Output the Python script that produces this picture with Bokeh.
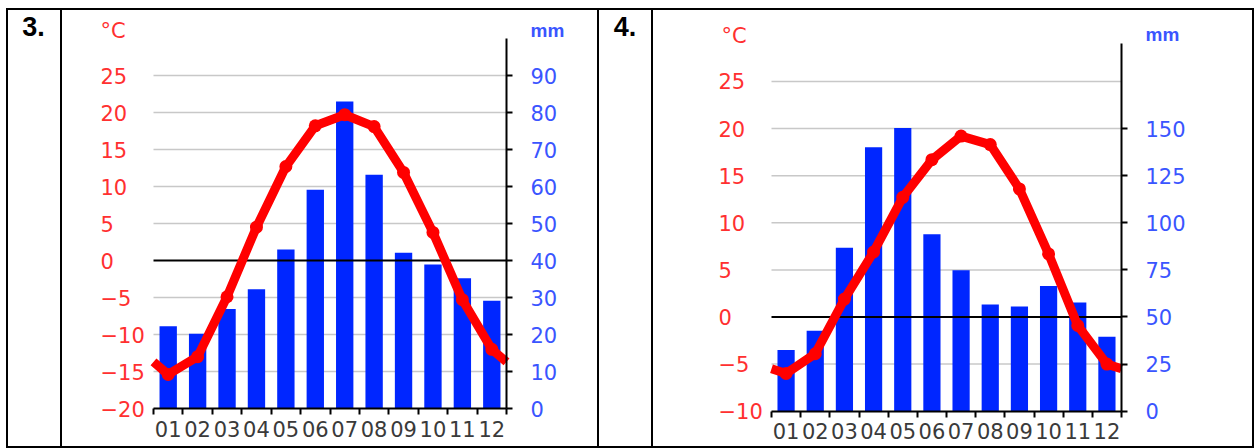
import numpy as np
from bokeh.plotting import figure
from bokeh.models import Range1d, LinearAxis, FixedTicker, Label, Spacer
from bokeh.layouts import row, column
from bokeh.embed import file_html
from bokeh.resources import INLINE

# ---------------- data ----------------
months = ["01", "02", "03", "04", "05", "06", "07", "08", "09", "10", "11", "12"]
panel_labels = ["3.", "4."]

temp3 = [-15.4, -13.0, -4.9, 4.5, 12.7, 18.2, 19.7, 18.1, 11.9, 3.8, -5.3, -12.0]
prec3 = [22.2, 20.2, 26.9, 32.2, 43.0, 59.1, 83.0, 63.2, 42.1, 38.9, 35.2, 29.1]
temp_ticks3 = [-20, -15, -10, -5, 0, 5, 10, 15, 20, 25]
prec_ticks3 = [0, 10, 20, 30, 40, 50, 60, 70, 80, 90]

temp4 = [-6.0, -3.9, 1.9, 6.9, 12.7, 16.7, 19.2, 18.3, 13.6, 6.7, -0.9, -5.0]
prec4 = [32.5, 42.7, 86.8, 140.1, 150.3, 93.9, 74.8, 56.6, 55.6, 66.5, 57.7, 39.5]
temp_ticks4 = [-10, -5, 0, 5, 10, 15, 20, 25]
prec_ticks4 = [0, 25, 50, 75, 100, 125, 150]

RED = "#ff0000"
RED_TXT = "#ff3030"
BLUE = "#0026ff"
BLUE_TXT = "#3a55ff"
FONT = "DejaVu Sans"
FS = "21px"

ROW_H = 436
ROW_TOP = 10          # page y of the row's top edge


def fmt(t):
    return str(t).replace("-", "\u2212")


def make_chart(temp, prec, t_lo, t_hi, p_top, t_ticks, p_ticks,
               canvas_x0, w, area, lab_dx, degc_dx, degc_dy, mm_dy):
    """area = (x_left, x_right, y_bottom, y_top) of the chart area in page pixels."""
    ax0, ax1, ayb, ayt = area
    n = len(months)
    cx0, cx1 = canvas_x0, canvas_x0 + w
    cy0, cy1 = ROW_TOP, ROW_TOP + ROW_H
    sx = (ax1 - ax0) / n
    sy = (ayb - ayt) / (t_hi - t_lo)
    x_start = 0 - (ax0 - cx0) / sx
    x_end = n + (cx1 - ax1) / sx
    y_start = t_lo - (cy1 - ayb) / sy
    y_end = t_hi + (ayt - cy0) / sy
    k = p_top / (t_hi - t_lo)

    p = figure(width=w, height=ROW_H, x_range=Range1d(x_start, x_end),
               y_range=Range1d(y_start, y_end), title=None,
               output_backend="svg", toolbar_location=None,
               x_axis_location=None, y_axis_location=None, min_border=0)
    p.outline_line_color = None
    p.background_fill_color = "white"
    p.border_fill_color = "white"
    for g in p.grid:
        g.visible = False
    p.extra_y_ranges = {"mm": Range1d((y_start - t_lo) * k, (y_end - t_lo) * k)}

    centers = np.arange(n) + 0.5

    # horizontal grid lines across the month span
    grid_ticks = [t for t in t_ticks if t not in (t_lo, 0)]
    p.segment(x0=[0] * len(grid_ticks), x1=[n] * len(grid_ticks), y0=grid_ticks, y1=grid_ticks,
              line_color="#c8c8c8", line_width=1.5)

    # bars
    p.vbar(x=centers, top=prec, bottom=0, width=0.59, y_range_name="mm",
           fill_color=BLUE, line_color=None)
    # zero line
    p.segment(x0=[0], x1=[n], y0=[0], y1=[0], line_color="black", line_width=2)

    # bottom axis
    xa = LinearAxis(fixed_location=t_lo, bounds=(0, n),
                    ticker=FixedTicker(ticks=list(centers), minor_ticks=list(range(n + 1))))
    xa.major_label_overrides = {float(c): m for c, m in zip(centers, months)}
    xa.major_tick_line_color = None
    xa.minor_tick_out = 6
    xa.minor_tick_in = 0
    xa.minor_tick_line_color = "black"
    xa.minor_tick_line_width = 2
    xa.axis_line_color = "black"
    xa.axis_line_width = 2
    xa.major_label_text_color = "#3a3a3a"
    xa.major_label_text_font = FONT
    xa.major_label_text_font_size = FS
    xa.major_label_standoff = 6
    p.add_layout(xa, "below")

    # right axis (precipitation)
    ra = LinearAxis(y_range_name="mm", fixed_location=n, bounds=(0, p_top),
                    ticker=FixedTicker(ticks=p_ticks))
    ra.axis_line_color = "black"
    ra.axis_line_width = 2
    ra.major_tick_line_color = "black"
    ra.major_tick_line_width = 2
    ra.major_tick_out = 6
    ra.major_tick_in = 0
    ra.minor_tick_line_color = None
    ra.major_label_text_color = BLUE_TXT
    ra.major_label_text_font = FONT
    ra.major_label_text_font_size = FS
    ra.major_label_standoff = 18
    p.add_layout(ra, "right")

    # temperature line (edges at the Dec/Jan mean, as drawn in the chart)
    edge = (temp[0] + temp[-1]) / 2.0
    xl = [0.0] + list(centers) + [float(n)]
    yl = [edge] + list(temp) + [edge]
    p.line(xl, yl, line_color=RED, line_width=9, line_join="round", line_cap="butt")
    p.scatter(centers, temp, size=13, fill_color=RED, line_color=None)

    # temperature tick labels (left-aligned as in the reference)
    for t in t_ticks:
        p.add_layout(Label(x=0, y=t, x_offset=lab_dx, text=fmt(t), text_align="left",
                           text_baseline="middle", text_color=RED_TXT, text_font=FONT,
                           text_font_size=FS))
    p.add_layout(Label(x=0, y=t_hi, x_offset=degc_dx, y_offset=degc_dy, text="\u00b0C",
                       text_align="left", text_baseline="middle", text_color=RED_TXT,
                       text_font=FONT, text_font_size=FS))
    p.add_layout(Label(x=n, y=t_hi, x_offset=24, y_offset=mm_dy, text="mm",
                       text_align="left", text_baseline="middle", text_color=BLUE_TXT,
                       text_font="Liberation Sans Narrow, Liberation Sans", text_font_style="bold",
                       text_font_size="19px"))
    return p


def make_cell(text, w, xfrac):
    c = figure(width=w, height=ROW_H, x_range=Range1d(0, 1), y_range=Range1d(0, 1), title=None,
               output_backend="svg", toolbar_location=None, x_axis_location=None,
               y_axis_location=None, min_border=0)
    c.outline_line_color = None
    for g in c.grid:
        g.visible = False
    c.add_layout(Label(x=xfrac, y=1, y_offset=-16, text=text, text_align="center",
                       text_baseline="middle", text_font="Liberation Sans",
                       text_font_style="bold", text_font_size="27px", text_color="black"))
    return c


def vline():
    return Spacer(width=2, height=ROW_H, styles={"background-color": "black"})


def hline(w):
    return Spacer(width=w, height=2, styles={"background-color": "black"})


# page x positions: border 6, cell3 8..60, chart3 62..597, cell4 599..651, chart4 653..1252
cell3 = make_cell(panel_labels[0], 52, 0.48)
chart3 = make_chart(temp3, prec3, -20, 30, 100, temp_ticks3, prec_ticks3,
                    62, 535, (153, 506, 408, 38), -53, -53, 8, 8.5)
cell4 = make_cell(panel_labels[1], 52, 0.49)
chart4 = make_chart(temp4, prec4, -10, 29, 195, temp_ticks4, prec_ticks4,
                    653, 599, (771, 1121, 410.7, 43.3), -53, -50, 8, 9)

TOTAL_W = 2 + 52 + 2 + 535 + 2 + 52 + 2 + 599 + 2
inner = column(hline(TOTAL_W),
               row(vline(), cell3, vline(), chart3, vline(), cell4, vline(), chart4, vline()),
               hline(TOTAL_W))
layout = row(Spacer(width=6, height=10), column(Spacer(width=10, height=8), inner))

open("out.html", "w").write(file_html(layout, INLINE))
